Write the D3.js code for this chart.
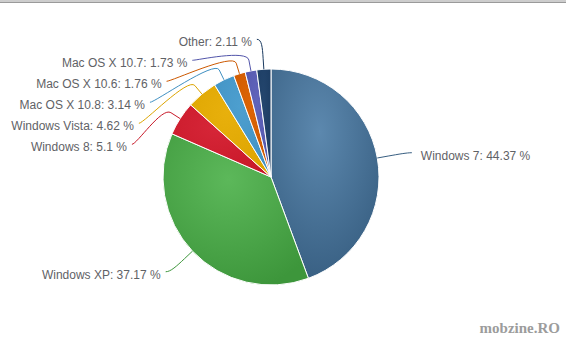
<!DOCTYPE html>
<html>
<head>
<meta charset="utf-8">
<script src="https://cdn.jsdelivr.net/npm/d3@7/dist/d3.min.js"></script>
<style>
  body { margin: 0; background: #fff; }
  svg { display: block; }
  .lbl { font-family: "Liberation Sans", Arial, sans-serif; font-size: 12px; fill: #5f6266; }
  .wm { font-family: "Liberation Serif", "DejaVu Serif", serif; font-size: 15px; font-weight: bold; }
</style>
</head>
<body>
<svg width="566" height="339"></svg>
<script>
// data
const categories = ["Windows 7", "Windows XP", "Windows 8", "Windows Vista",
  "Mac OS X 10.8", "Mac OS X 10.6", "Mac OS X 10.7", "Other"];
const shares = [44.37, 37.17, 5.1, 4.62, 3.14, 1.76, 1.73, 2.11];
const lightColors = ["#5c88ae", "#5cb85a", "#d62638", "#e8b00c", "#4d9fcf", "#dc6406", "#6064bb", "#24466e"];
const darkColors  = ["#375e81", "#3d963b", "#c81828", "#dca400", "#4090c2", "#cc5800", "#5255aa", "#1a3a60"];

const svg = d3.select('svg');
const width = +svg.attr('width');

const cx = 271, cy = 177, r = 108;
const distance = 30;
const labelR = r + distance;
const spacing = 21;

// browser bar at the top
svg.append('rect').attr('x', 0).attr('y', 0).attr('width', width).attr('height', 3).attr('fill', '#cdcdcd');
svg.append('line').attr('x1', 0).attr('x2', width).attr('y1', 2.5).attr('y2', 2.5)
  .attr('stroke', '#9a9a9a').attr('stroke-width', 1);

const data = categories.map((c, i) => ({ name: c, value: shares[i], i: i }));

const pie = d3.pie().value(d => d.value).sort(null).startAngle(0).endAngle(2 * Math.PI);
const arcs = pie(data);
const arc = d3.arc().innerRadius(0).outerRadius(r);

// gradients per slice
const defs = svg.append('defs');
arcs.forEach((a, i) => {
  const g = defs.append('radialGradient')
    .attr('id', 'grad' + i)
    .attr('cx', 0.45).attr('cy', 0.3).attr('r', 0.75);
  g.append('stop').attr('offset', 0).attr('stop-color', lightColors[i]);
  g.append('stop').attr('offset', 1).attr('stop-color', darkColors[i]);
});

const pieG = svg.append('g').attr('transform', `translate(${cx},${cy})`);
pieG.selectAll('path')
  .data(arcs)
  .enter()
  .append('path')
    .attr('d', arc)
    .attr('fill', (d, i) => `url(#grad${i})`)
    .attr('stroke', '#fff')
    .attr('stroke-width', 1)
    .attr('stroke-linejoin', 'round');

// label layout (highcharts-like)
const pt = (ang, rad) => [cx + Math.sin(ang) * rad, cy - Math.cos(ang) * rad];

arcs.forEach(a => {
  a.mid = (a.startAngle + a.endAngle) / 2;
  a.left = Math.sin(a.mid) < 0;
  a.ly = cy - Math.cos(a.mid) * labelR;
});

[true, false].forEach(side => {
  const list = arcs.filter(a => a.left === side).sort((p, q) => p.ly - q.ly);
  let prev = -Infinity;
  list.forEach(a => {
    a.ly = Math.max(a.ly, prev + spacing);
    prev = a.ly;
  });
});

arcs.forEach(a => {
  const dy = Math.max(-labelR, Math.min(labelR, a.ly - cy));
  a.lx = cx + (a.left ? -1 : 1) * Math.sqrt(labelR * labelR - dy * dy);
});

const labG = svg.append('g');

labG.selectAll('path')
  .data(arcs)
  .enter()
  .append('path')
    .attr('d', a => {
      const edge = pt(a.mid, r);
      const brk = pt(a.mid, r + 11);
      const ctrl = pt(a.mid, r + 22);
      const sx = a.lx + (a.left ? -5 : 5);
      return `M${sx},${a.ly}C${a.lx},${a.ly} ${ctrl[0]},${ctrl[1]} ${brk[0]},${brk[1]}L${edge[0]},${edge[1]}`;
    })
    .attr('fill', 'none')
    .attr('stroke', (a, i) => darkColors[i])
    .attr('stroke-width', 1);

labG.selectAll('text')
  .data(arcs)
  .enter()
  .append('text')
    .attr('class', 'lbl')
    .attr('x', a => a.left ? a.lx - 10 : a.lx + 14)
    .attr('y', a => a.ly + 7)
    .attr('text-anchor', a => a.left ? 'end' : 'start')
    .text(a => `${a.data.name}: ${a.data.value} %`);

// watermark
svg.append('text').attr('class', 'wm')
  .attr('x', 560).attr('y', 333).attr('text-anchor', 'end')
  .attr('fill', '#ffffff').attr('dx', 1).attr('dy', 1)
  .text('mobzine.RO');
svg.append('text').attr('class', 'wm')
  .attr('x', 560).attr('y', 333).attr('text-anchor', 'end')
  .attr('fill', '#9c9c9c')
  .text('mobzine.RO');
</script>
</body>
</html>
